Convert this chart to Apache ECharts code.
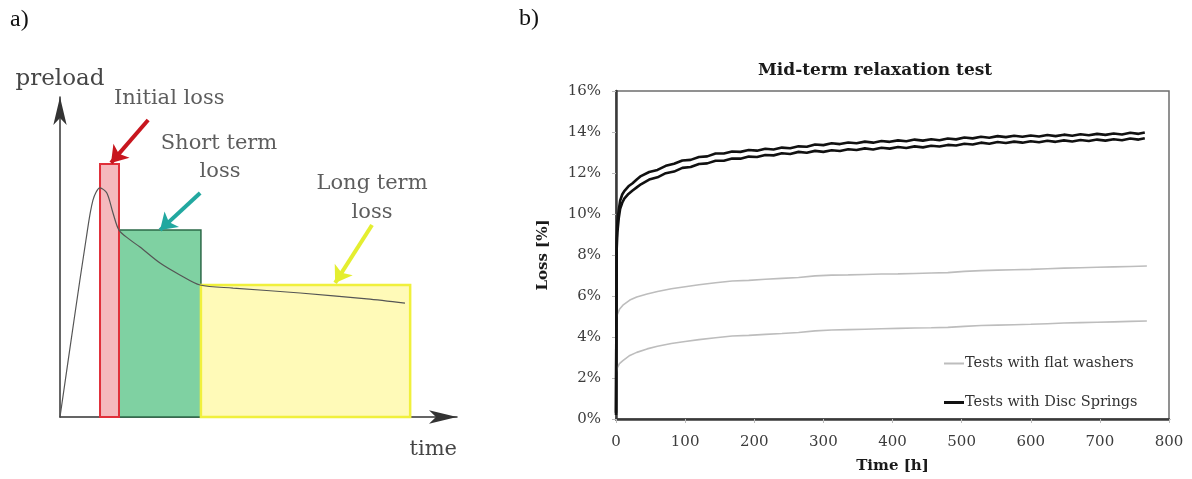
<!DOCTYPE html>
<html>
<head>
<meta charset="utf-8">
<script src="https://cdn.jsdelivr.net/npm/echarts@6/dist/echarts.min.js"></script>
<style>html,body{margin:0;padding:0;background:#fff}#c{width:1192px;height:479px}</style>
</head>
<body>
<div id="c"></div>
<script>
// ---------- Panel b data ----------
const xTicks = [0,100,200,300,400,500,600,700,800];
const yTicks = [0,2,4,6,8,10,12,14,16];
const legendNames = ['Tests with flat washers','Tests with Disc Springs'];

const discTimes = [0,1,2,4,6,9,12,18,24,30,36,48,60,72,84,96,108,120,132,144,156,168,180,192,204,216,228,240,252,264,276,288,300,312,324,336,348,360,372,384,396,408,420,432,444,456,468,480,492,504,516,528,540,552,564,576,588,600,612,624,636,648,660,672,684,696,708,720,732,744,756,765];
const discUpper = [0.3,8.8,9.6,10.2,10.65,10.95,11.12,11.35,11.5,11.68,11.85,
  12.05,12.15,12.35,12.45,12.61,12.64,12.78,12.81,12.95,12.95,
  13.05,13.03,13.12,13.09,13.18,13.15,13.24,13.21,13.30,13.28,
  13.39,13.36,13.45,13.41,13.49,13.45,13.53,13.48,13.56,13.52,
  13.59,13.55,13.63,13.58,13.65,13.60,13.68,13.64,13.73,13.69,
  13.77,13.72,13.80,13.75,13.82,13.77,13.83,13.78,13.85,13.80,
  13.87,13.82,13.89,13.84,13.91,13.86,13.93,13.88,13.96,13.91,
  13.98];
const discLower = [0.2,8.3,9.1,9.8,10.25,10.55,10.75,10.98,11.15,11.3,11.45,
  11.68,11.79,11.99,12.07,12.25,12.29,12.44,12.47,12.60,12.60,
  12.71,12.70,12.80,12.78,12.88,12.86,12.96,12.93,13.03,12.99,
  13.08,13.03,13.11,13.07,13.16,13.12,13.20,13.15,13.23,13.19,
  13.27,13.22,13.30,13.25,13.33,13.29,13.37,13.34,13.43,13.39,
  13.48,13.43,13.51,13.46,13.53,13.48,13.55,13.50,13.57,13.52,
  13.59,13.54,13.61,13.56,13.63,13.58,13.65,13.60,13.68,13.63,
  13.70];

const flatTimes = [0,2,5,10,20,30,45,60,80,100,120,144,168,192,216,240,264,288,312,336,360,384,408,432,456,480,504,528,552,576,600,624,648,672,696,720,744,768];
const flatUpper = [4.9,5.1,5.35,5.55,5.8,5.95,6.1,6.22,6.35,6.45,6.55,6.65,6.73,6.76,6.82,6.86,6.9,6.98,7.02,7.03,7.05,7.07,7.08,7.1,7.12,7.14,7.2,7.24,7.26,7.28,7.3,7.33,7.36,7.38,7.4,7.42,7.44,7.46];
const flatLower = [2.2,2.5,2.7,2.85,3.1,3.25,3.42,3.55,3.68,3.78,3.87,3.96,4.05,4.08,4.13,4.17,4.22,4.3,4.34,4.36,4.38,4.4,4.42,4.44,4.45,4.47,4.52,4.56,4.58,4.6,4.62,4.65,4.68,4.7,4.72,4.74,4.76,4.78];

// ---------- Panel a (schematic) data, in diagram units ----------
const preloadCurve = [[0,0],[3.5,30],[6.5,55],[8.3,67.8],[10.08,71.6],[11.8,70],[13.35,63.75],[14.86,58.4],[17.5,55.5],[20.15,53.1],[25.2,48.1],[30.2,44.4],[35.3,41.25],[43.6,40.3],[60.5,38.75],[77.3,36.9],[86.9,35.6]];
const blockNames = ['Initial loss','Short term loss','Long term loss'];
const blockStart = [10.08,14.86,35.5];
const blockEnd   = [14.86,35.5,88.2];
const blockTop   = [79.06,58.4,41.25];
const arrowFrom = [[22.2,92.8],[35.3,70],[78.6,60]];
const arrowTo   = [[12.85,79.4],[25.2,58.4],[69.3,41.9]];
const diagramLabels = ['Initial loss','Short term','loss','Long term','loss'];
const diagramLabelPos = [[27.5,99.4],[40.05,85.6],[40.3,76.6],[78.6,72.8],[78.6,64]];

// ---------- styles ----------
const blockFill   = ['#f5b9bd','#7fd1a2','#fffab8'];
const blockStroke = ['#e0303a','#2d6a48','#f0f03c'];
const blockWidth  = [2,1.5,2.5];
const blockZ      = [2,1,3];
const arrowColors = ['#c8161e','#22a8a0','#e4ee30'];
const serif = 'DejaVu Serif';
const labelColor = '#353535';

const zip = (xs, ys) => xs.map((x,i)=>[x, ys[i]]);

const chart = echarts.init(document.getElementById('c'), null, {renderer:'canvas'});
const option = {
  animation:false,
  backgroundColor:'#fff',
  title:{
    text:'Mid-term relaxation test',
    left:753, top:57,
    textStyle:{fontFamily:serif, fontWeight:'bold', fontSize:17, color:'#1a1a1a'}
  },
  graphic:[
    {type:'text', left:10, top:8, style:{text:'a)', font:'24px "Liberation Serif"', fill:'#111'}},
    {type:'text', left:519, top:7, style:{text:'b)', font:'24px "Liberation Serif"', fill:'#111'}}
  ],
  legend:{
    data:[
      {name:legendNames[0], icon:'path://M0,0H20V2H0Z', itemStyle:{color:'#bdbdbd'}},
      {name:legendNames[1], icon:'path://M0,0H20V3H0Z', itemStyle:{color:'#111'}}
    ],
    orient:'vertical',
    left:939, top:351,
    itemWidth:20, itemHeight:14, itemGap:24,
    textStyle:{fontFamily:serif, fontSize:14.5, color:'#333', padding:[0,0,0,-4]}
  },
  grid:[
    {left:60, top:97, width:397, height:320, show:false},
    {left:616, top:91, width:553, height:328, show:true, borderColor:'#6e6e6e', borderWidth:1.5, backgroundColor:'transparent'}
  ],
  xAxis:[
    {gridIndex:0, type:'value', min:0, max:100,
      name:'time', nameLocation:'end', nameGap:0,
      nameTextStyle:{fontFamily:serif, fontSize:21, color:'#454545', align:'right', verticalAlign:'top', padding:[22,0,0,0]},
      axisLine:{show:true, symbol:['none','arrow'], symbolSize:[10,28], lineStyle:{color:'#333', width:1.5}},
      axisTick:{show:false}, axisLabel:{show:false}, splitLine:{show:false}},
    {gridIndex:1, type:'value', min:0, max:800, interval:100,
      name:'Time [h]', nameLocation:'middle', nameGap:40,
      nameTextStyle:{fontFamily:serif, fontWeight:'bold', fontSize:15, color:'#1a1a1a'},
      axisLine:{show:true, onZero:false, lineStyle:{color:'#3a3a3a', width:2.5}},
      axisTick:{show:true, length:4, lineStyle:{color:'#bbb'}},
      axisLabel:{fontFamily:serif, fontSize:15, color:'#3c3c3c', margin:16,
        formatter:v=>xTicks.includes(v)?String(v):''},
      splitLine:{show:false}}
  ],
  yAxis:[
    {gridIndex:0, type:'value', min:0, max:100,
      name:'preload', nameLocation:'end', nameGap:6,
      nameTextStyle:{fontFamily:serif, fontSize:23, color:'#454545', align:'center', verticalAlign:'bottom'},
      axisLine:{show:true, symbol:['none','arrow'], symbolSize:[10,28], lineStyle:{color:'#333', width:1.5}},
      axisTick:{show:false}, axisLabel:{show:false}, splitLine:{show:false}},
    {gridIndex:1, type:'value', min:0, max:16, interval:2,
      name:'Loss [%]', nameLocation:'middle', nameGap:65,
      nameTextStyle:{fontFamily:serif, fontWeight:'bold', fontSize:15, color:'#1a1a1a'},
      axisLine:{show:true, onZero:false, lineStyle:{color:'#3a3a3a', width:2.5}},
      axisTick:{show:true, length:4, lineStyle:{color:'#bbb'}},
      axisLabel:{fontFamily:serif, fontSize:15, color:'#3c3c3c', margin:15,
        formatter:v=>yTicks.includes(v)?v+'%':''},
      splitLine:{show:false}}
  ],
  series:[
    // panel a blocks
    {type:'custom', xAxisIndex:0, yAxisIndex:0, silent:true,
      data: blockNames.map((n,i)=>({name:n, value:[blockStart[i], blockEnd[i], blockTop[i], i]})),
      renderItem:(params, api)=>{
        const i = api.value(3);
        const p0 = api.coord([api.value(0), 0]);
        const p1 = api.coord([api.value(1), api.value(2)]);
        return {type:'rect', z2:blockZ[i],
          shape:{x:p0[0], y:p1[1], width:p1[0]-p0[0], height:p0[1]-p1[1]},
          style:{fill:blockFill[i], stroke:blockStroke[i], lineWidth:blockWidth[i]}};
      }},
    {type:'line', name:'preload curve', xAxisIndex:0, yAxisIndex:0, data:preloadCurve,
      smooth:0.3, showSymbol:false, z:5, lineStyle:{color:'#555', width:1.2}},
    {type:'lines', coordinateSystem:'cartesian2d', xAxisIndex:0, yAxisIndex:0, z:6,
      symbol:['none','arrow'], symbolSize:16,
      data: arrowFrom.map((f,i)=>({coords:[f, arrowTo[i]], lineStyle:{color:arrowColors[i], width:4, opacity:1}}))},
    {type:'scatter', xAxisIndex:0, yAxisIndex:0, symbolSize:0, clip:false, z:7, silent:true,
      data: diagramLabels.map((t,i)=>({name:t, value:diagramLabelPos[i]})),
      label:{show:true, position:'inside', formatter:'{b}', fontFamily:serif, fontSize:21, color:labelColor}},
    // panel b
    {type:'line', name:legendNames[0], xAxisIndex:1, yAxisIndex:1, data:zip(flatTimes, flatUpper),
      showSymbol:false, symbol:'none', color:'#bdbdbd', lineStyle:{color:'#bdbdbd', width:1.6}},
    {type:'line', name:legendNames[0], xAxisIndex:1, yAxisIndex:1, data:zip(flatTimes, flatLower),
      showSymbol:false, symbol:'none', color:'#bdbdbd', lineStyle:{color:'#bdbdbd', width:1.6}},
    {type:'line', name:legendNames[1], xAxisIndex:1, yAxisIndex:1, data:zip(discTimes, discUpper),
      showSymbol:false, symbol:'none', color:'#111', lineStyle:{color:'#111', width:2.6}},
    {type:'line', name:legendNames[1], xAxisIndex:1, yAxisIndex:1, data:zip(discTimes, discLower),
      showSymbol:false, symbol:'none', color:'#111', lineStyle:{color:'#111', width:2.6}}
  ]
};
chart.setOption(option);
</script>
</body>
</html>
